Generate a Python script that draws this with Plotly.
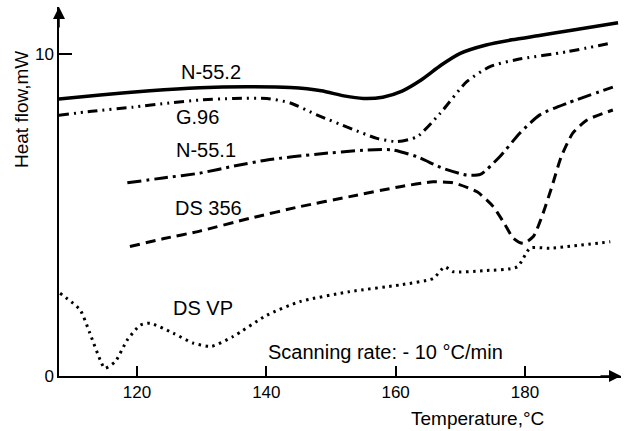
import plotly.graph_objects as go

# ---- data ----
t_n552 = [107.9, 114.3, 122.0, 129.7, 137.0, 143.7, 148.5, 152.0, 155.0, 158.0, 161.0, 164.0, 167.0, 170.0, 174.0, 178.0, 182.0, 187.0, 194.4]
h_n552 = [8.60, 8.73, 8.86, 8.95, 8.98, 8.96, 8.86, 8.70, 8.62, 8.66, 8.85, 9.20, 9.65, 10.02, 10.28, 10.44, 10.57, 10.73, 10.97]

t_g96 = [107.9, 113.0, 119.4, 125.0, 129.7, 135.0, 140.1, 143.7, 147.8, 152.9, 157.1, 160.2, 163.3, 166.9, 171.0, 174.6, 178.8, 186.5, 193.6]
h_g96 = [8.10, 8.22, 8.35, 8.48, 8.57, 8.62, 8.62, 8.48, 8.11, 7.70, 7.38, 7.28, 7.43, 8.16, 9.14, 9.61, 9.83, 10.07, 10.35]

t_n551 = [118.5, 124.0, 129.7, 135.0, 140.1, 147.8, 155.6, 159.6, 163.3, 167.3, 171.0, 173.1, 176.1, 179.2, 182.3, 186.5, 193.6]
h_n551 = [6.00, 6.15, 6.30, 6.52, 6.71, 6.89, 7.02, 7.02, 6.81, 6.45, 6.24, 6.26, 6.81, 7.54, 8.11, 8.47, 8.97]

t_ds356 = [118.9, 124.0, 129.7, 137.5, 145.2, 152.9, 160.7, 165.8, 168.9, 172.6, 175.1, 176.8, 178.2, 179.7, 181.3, 182.8, 184.2, 185.6, 187.4, 189.6, 193.6]
h_ds356 = [4.02, 4.26, 4.50, 4.90, 5.26, 5.57, 5.88, 6.03, 6.00, 5.72, 5.26, 4.74, 4.28, 4.12, 4.33, 5.05, 5.90, 6.80, 7.54, 7.95, 8.26]

t_dsvp = [108.1, 111.2, 112.7, 114.3, 115.0, 116.6, 118.5, 120.5, 122.0, 125.6, 128.7, 131.5, 134.8, 140.1, 145.2, 152.9, 160.7, 165.8, 167.6, 168.9, 173.5, 178.8, 180.8, 183.9, 193.2]
h_dsvp = [2.57, 2.05, 1.33, 0.50, 0.24, 0.44, 1.12, 1.58, 1.64, 1.33, 1.02, 0.92, 1.22, 1.89, 2.31, 2.62, 2.83, 3.03, 3.39, 3.24, 3.27, 3.39, 3.97, 3.97, 4.17]

x_ticks = [120, 140, 160, 180]
y_ticks = [0, 10]

FONT = "Liberation Sans, Arial, sans-serif"

fig = go.Figure()

def add(t, h, dash, width):
    fig.add_trace(go.Scatter(x=t, y=h, mode="lines",
                             line=dict(color="black", width=width, dash=dash, shape="spline", smoothing=0.6),
                             showlegend=False, hoverinfo="skip"))

add(t_n552, h_n552, "solid", 3.5)
add(t_g96, h_g96, "10px,5px,2px,5px,2px,5px", 3)
add(t_n551, h_n551, "14px,5px,3px,5px", 3)
add(t_ds356, h_ds356, "10px,6px", 3)
add(t_dsvp, h_dsvp, "2.5px,4.5px", 3)

labels = [
    (131.4, 9.44, "N-55.2"),
    (129.3, 8.04, "G.96"),
    (130.7, 7.02, "N-55.1"),
    (131.1, 5.22, "DS 356"),
    (130.2, 2.10, "DS VP"),
]
anns = []
for x, y, s in labels:
    anns.append(dict(x=x, y=y, text=s, showarrow=False, xanchor="center", yanchor="middle",
                     font=dict(family=FONT, size=20, color="black")))

anns.append(dict(x=158.4, y=0.75, text="Scanning rate: - 10 °C/min", showarrow=False,
                 xanchor="center", yanchor="middle", font=dict(family=FONT, size=20, color="black")))
# plot area: x 59..621 px, y 7..376 px
anns.append(dict(x=(477 - 59) / 562, y=(376 - 418) / 369, xref="paper", yref="paper", text="Temperature,°C",
                 showarrow=False, xanchor="center", yanchor="middle",
                 font=dict(family=FONT, size=19, color="black")))
anns.append(dict(x=(22 - 59) / 562, y=(376 - 110) / 369, xref="paper", yref="paper", text="Heat flow,mW",
                 showarrow=False, textangle=-90, xanchor="center", yanchor="middle",
                 font=dict(family=FONT, size=19, color="black")))
# axis arrowheads
anns.append(dict(x=0, y=1, xref="x domain", yref="y domain", ax=0, ay=22, axref="pixel", ayref="pixel",
                 text="", showarrow=True, arrowhead=2, arrowsize=1.6, arrowwidth=1.5, arrowcolor="black"))
anns.append(dict(x=1, y=0, xref="x domain", yref="y domain", ax=-22, ay=0, axref="pixel", ayref="pixel",
                 text="", showarrow=True, arrowhead=2, arrowsize=1.6, arrowwidth=1.5, arrowcolor="black"))

fig.update_layout(
    width=626, height=431,
    margin=dict(l=59, r=5, t=7, b=55, autoexpand=False),
    paper_bgcolor="white", plot_bgcolor="white",
    annotations=anns,
    showlegend=False,
    xaxis=dict(range=[107.93, 194.86], tickvals=x_ticks, ticktext=[str(v) for v in x_ticks],
               ticks="inside", ticklen=10, tickwidth=1.5, tickcolor="black",
               showline=True, linecolor="black", linewidth=1.5, showgrid=False, zeroline=False,
               tickfont=dict(family=FONT, size=17, color="black")),
    yaxis=dict(range=[0, 11.46], tickvals=y_ticks, ticktext=[str(v) for v in y_ticks],
               ticks="inside", ticklen=13, tickwidth=1.5, tickcolor="black",
               showline=True, linecolor="black", linewidth=1.5, showgrid=False, zeroline=False,
               tickfont=dict(family=FONT, size=17, color="black")),
)

fig.write_html("out.html", config={"displayModeBar": False},
               post_script="document.body.style.margin='0px';document.body.style.padding='0px';")
